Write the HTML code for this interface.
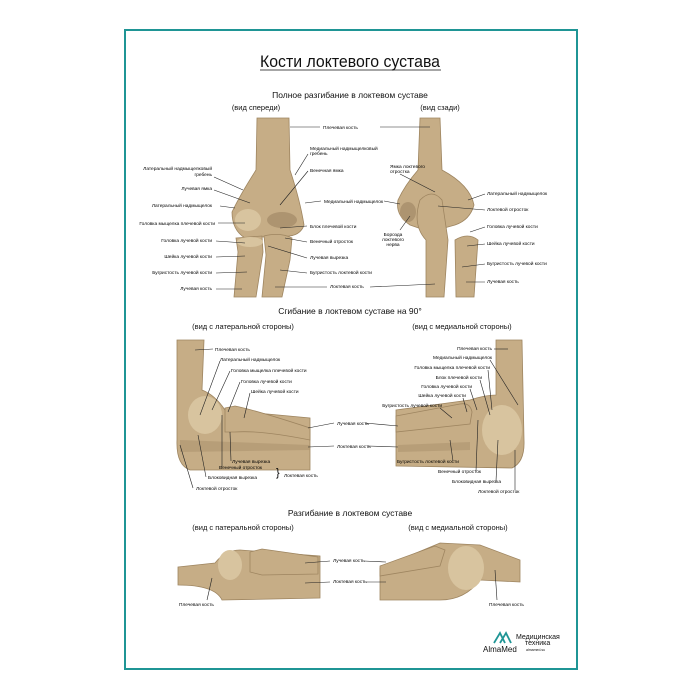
<!DOCTYPE html>
<html><head><meta charset="utf-8"><style>
html,body{margin:0;padding:0;background:#fff;width:700px;height:700px;overflow:hidden}
svg{display:block}
text{font-family:"Liberation Sans","Noto Sans CJK SC",sans-serif;fill:#111}
.l{font-size:4.8px}
.l text{fill:#000}
.ln{stroke:#222;stroke-width:0.6;fill:none}
.b{fill:#c6ad86;stroke:#9e8560;stroke-width:0.8}
.d{fill:#ad9470}
.h{fill:#d8c49f}
</style></head><body>
<svg width="700" height="700" viewBox="0 0 700 700">
<rect x="125" y="30" width="452" height="639" fill="#fff" stroke="#1f9595" stroke-width="2"/>
<text x="350" y="67" text-anchor="middle" style="font-size:17px" textLength="180" lengthAdjust="spacingAndGlyphs">Кости локтевого сустава</text>
<line x1="260" y1="70" x2="441" y2="70" stroke="#111" stroke-width="0.8"/>
<text x="350" y="98" text-anchor="middle" style="font-size:8.5px">Полное разгибание в локтевом суставе</text>
<text x="256" y="110" text-anchor="middle" style="font-size:7.5px">(вид спереди)</text>
<text x="440" y="110" text-anchor="middle" style="font-size:7.5px">(вид сзади)</text>

<!-- front view -->
<path class="b" d="M257,118 L289,118 L290,170 Q300,200 304,225 Q300,238 280,236 L245,238 Q232,230 232,212 Q240,195 256,170 Z"/>
<ellipse class="h" cx="248" cy="220" rx="13" ry="11"/>
<ellipse class="d" cx="282" cy="220" rx="15" ry="8"/>
<path class="b" d="M236,238 L262,236 L263,252 L256,297 L234,297 L238,252 Z"/>
<path class="b" d="M264,236 Q280,232 292,238 L290,260 L282,297 L262,297 L266,255 Z"/>
<ellipse class="h" cx="250" cy="242" rx="13" ry="5"/>
<!-- back view -->
<path class="b" d="M420,118 L440,118 L442,170 Q470,185 474,205 Q470,220 455,225 L430,232 L410,225 Q395,215 398,200 Q405,185 418,170 Z"/>
<path class="b" d="M420,200 Q432,188 442,200 L448,240 L444,297 L426,297 L426,240 Q412,225 420,200 Z"/>
<path class="b" d="M455,240 Q468,232 478,240 L474,297 L456,297 Z"/>
<ellipse class="d" cx="408" cy="212" rx="8" ry="10"/>

<g class="l">
<text x="323" y="129">Плечевая кость</text><line class="ln" x1="290" y1="127" x2="320" y2="127"/><line class="ln" x1="380" y1="127" x2="430" y2="127"/>
<text x="310" y="150">Медиальный надмыщелковый</text><text x="310" y="155">гребень</text><line class="ln" x1="295" y1="175" x2="308" y2="154"/>
<text x="310" y="172">Венечная ямка</text><line class="ln" x1="280" y1="205" x2="308" y2="171"/>
<text x="212" y="170" text-anchor="end">Латеральный надмыщелковый</text><text x="212" y="176" text-anchor="end">гребень</text><line class="ln" x1="214" y1="177" x2="243" y2="190"/>
<text x="212" y="190" text-anchor="end">Лучевая ямка</text><line class="ln" x1="214" y1="190" x2="250" y2="203"/>
<text x="212" y="207" text-anchor="end">Латеральный надмыщелок</text><line class="ln" x1="220" y1="206" x2="235" y2="208"/>
<text x="215" y="225" text-anchor="end">Головка мыщелка плечевой кости</text><line class="ln" x1="218" y1="223" x2="245" y2="223"/>
<text x="212" y="242" text-anchor="end">Головка лучевой кости</text><line class="ln" x1="216" y1="241" x2="245" y2="243"/>
<text x="212" y="258" text-anchor="end">Шейка лучевой кости</text><line class="ln" x1="216" y1="257" x2="245" y2="256"/>
<text x="212" y="274" text-anchor="end">Бугристость лучевой кости</text><line class="ln" x1="216" y1="273" x2="247" y2="272"/>
<text x="212" y="290" text-anchor="end">Лучевая кость</text><line class="ln" x1="216" y1="289" x2="242" y2="289"/>
<text x="324" y="203">Медиальный надмыщелок</text><line class="ln" x1="305" y1="203" x2="321" y2="201"/><line class="ln" x1="384" y1="201" x2="400" y2="204"/>
<text x="310" y="228">Блок плечевой кости</text><line class="ln" x1="280" y1="228" x2="307" y2="226"/>
<text x="310" y="243">Венечный отросток</text><line class="ln" x1="285" y1="238" x2="307" y2="242"/>
<text x="310" y="259">Лучевая вырезка</text><line class="ln" x1="268" y1="246" x2="307" y2="258"/>
<text x="310" y="274">Бугристость локтевой кости</text><line class="ln" x1="280" y1="270" x2="307" y2="273"/>
<text x="330" y="288">Локтевая кость</text><line class="ln" x1="275" y1="287" x2="327" y2="287"/><line class="ln" x1="370" y1="287" x2="435" y2="284"/>
<text x="390" y="168">Ямка локтевого</text><text x="390" y="173">отростка</text><line class="ln" x1="400" y1="174" x2="435" y2="192"/>
<text x="487" y="195">Латеральный надмыщелок</text><line class="ln" x1="468" y1="200" x2="485" y2="194"/>
<text x="487" y="211">Локтевой отросток</text><line class="ln" x1="438" y1="206" x2="485" y2="210"/>
<text x="487" y="228">Головка лучевой кости</text><line class="ln" x1="470" y1="232" x2="485" y2="227"/>
<text x="487" y="245">Шейка лучевой кости</text><line class="ln" x1="467" y1="246" x2="485" y2="244"/>
<text x="487" y="265">Бугристость лучевой кости</text><line class="ln" x1="462" y1="267" x2="485" y2="264"/>
<text x="487" y="283">Лучевая кость</text><line class="ln" x1="466" y1="282" x2="485" y2="282"/>
<text x="393" y="236" text-anchor="middle">Борозда</text><text x="393" y="241" text-anchor="middle">локтевого</text><text x="393" y="246" text-anchor="middle">нерва</text><line class="ln" x1="400" y1="230" x2="410" y2="216"/>
</g>

<text x="350" y="314" text-anchor="middle" style="font-size:8.5px">Сгибание в локтевом суставе на 90°</text>
<text x="243" y="329" text-anchor="middle" style="font-size:7.5px">(вид с латеральной стороны)</text>
<text x="462" y="329" text-anchor="middle" style="font-size:7.5px">(вид с медиальной стороны)</text>

<!-- lateral flexion -->
<path class="b" d="M177,340 L204,340 L202,390 Q215,395 225,410 L310,418 L310,470 L190,470 Q176,465 177,440 Z"/>
<ellipse class="h" cx="205" cy="415" rx="17" ry="19"/>
<path class="b" d="M225,408 L235,406 Q255,410 310,428 L310,440 Q260,430 235,432 L225,432 Z"/>
<path class="d" d="M180,440 L310,445 L310,450 L180,452 Z" opacity="0.6"/>
<!-- medial flexion -->
<path class="b" d="M496,340 L522,340 L524,440 Q525,462 512,468 L396,466 L396,410 L470,400 Q485,395 496,395 Z"/>
<ellipse class="h" cx="502" cy="430" rx="20" ry="25"/>
<path class="b" d="M396,416 L460,404 Q470,402 472,412 L470,424 L396,432 Z"/>
<path class="d" d="M398,445 L470,442 L470,450 L398,452 Z" opacity="0.6"/>

<g class="l">
<text x="215" y="351">Плечевая кость</text><line class="ln" x1="195" y1="350" x2="213" y2="349"/>
<text x="220" y="361">Латеральный надмыщелок</text><line class="ln" x1="200" y1="415" x2="220" y2="361"/>
<text x="231" y="372">Головка мыщелка плечевой кости</text><line class="ln" x1="212" y1="410" x2="230" y2="371"/>
<text x="241" y="383">Головка лучевой кости</text><line class="ln" x1="228" y1="412" x2="240" y2="382"/>
<text x="251" y="393">Шейка лучевой кости</text><line class="ln" x1="244" y1="418" x2="250" y2="393"/>
<text x="337" y="425">Лучевая кость</text><line class="ln" x1="308" y1="428" x2="334" y2="423"/><line class="ln" x1="365" y1="423" x2="398" y2="426"/>
<text x="337" y="448">Локтевая кость</text><line class="ln" x1="308" y1="447" x2="334" y2="446"/><line class="ln" x1="368" y1="446" x2="398" y2="447"/>
<text x="232" y="463">Лучевая вырезка</text><line class="ln" x1="230" y1="432" x2="231" y2="461"/>
<text x="219" y="469">Венечный отросток</text><line class="ln" x1="222" y1="415" x2="222" y2="467"/>
<text x="208" y="479">Блоковидная вырезка</text><line class="ln" x1="198" y1="435" x2="206" y2="477"/>
<text x="196" y="490">Локтевой отросток</text><line class="ln" x1="180" y1="445" x2="193" y2="488"/>
<text x="276" y="476" style="font-size:11px">}</text><text x="284" y="477">Локтевая кость</text>
<text x="492" y="350" text-anchor="end">Плечевая кость</text><line class="ln" x1="494" y1="349" x2="508" y2="349"/>
<text x="492" y="359" text-anchor="end">Медиальный надмыщелок</text><line class="ln" x1="490" y1="360" x2="518" y2="405"/>
<text x="490" y="369" text-anchor="end">Головка мыщелка плечевой кости</text><line class="ln" x1="488" y1="370" x2="492" y2="410"/>
<text x="482" y="379" text-anchor="end">Блок плечевой кости</text><line class="ln" x1="480" y1="380" x2="490" y2="415"/>
<text x="472" y="388" text-anchor="end">Головка лучевой кости</text><line class="ln" x1="470" y1="389" x2="477" y2="410"/>
<text x="466" y="397" text-anchor="end">Шейка лучевой кости</text><line class="ln" x1="463" y1="398" x2="467" y2="412"/>
<text x="442" y="407" text-anchor="end">Бугристость лучевой кости</text><line class="ln" x1="440" y1="408" x2="452" y2="418"/>
<text x="397" y="463">Бугристость локтевой кости</text><line class="ln" x1="450" y1="440" x2="453" y2="461"/>
<text x="438" y="473">Венечный отросток</text><line class="ln" x1="478" y1="420" x2="476" y2="471"/>
<text x="452" y="483">Блоковидная вырезка</text><line class="ln" x1="498" y1="440" x2="496" y2="481"/>
<text x="478" y="493">Локтевой отросток</text><line class="ln" x1="515" y1="450" x2="515" y2="490"/>
</g>

<text x="350" y="516" text-anchor="middle" style="font-size:8.5px">Разгибание в локтевом суставе</text>
<text x="243" y="530" text-anchor="middle" style="font-size:7.5px">(вид с патеральной стороны)</text>
<text x="458" y="530" text-anchor="middle" style="font-size:7.5px">(вид с медиальной стороны)</text>

<!-- lateral extension -->
<path class="b" d="M178,567 L215,563 Q225,550 240,550 L320,556 L320,598 L222,600 Q215,585 178,585 Z"/>
<ellipse class="h" cx="230" cy="565" rx="12" ry="15"/>
<path class="b" d="M250,552 L262,549 L318,557 L318,574 L262,575 L250,572 Z"/>
<!-- medial extension -->
<path class="b" d="M380,568 L440,543 L480,545 L520,560 L520,582 L480,580 Q465,600 440,600 L380,600 Z"/>
<ellipse class="h" cx="466" cy="568" rx="18" ry="22"/>
<path class="b" d="M380,566 L435,546 L445,550 L440,566 L380,576 Z"/>

<g class="l">
<text x="333" y="562">Лучевая кость</text><line class="ln" x1="305" y1="563" x2="330" y2="561"/><line class="ln" x1="364" y1="561" x2="386" y2="562"/>
<text x="333" y="583">Локтевая кость</text><line class="ln" x1="305" y1="583" x2="330" y2="582"/><line class="ln" x1="366" y1="582" x2="386" y2="582"/>
<text x="179" y="606">Плечевая кость</text><line class="ln" x1="212" y1="578" x2="207" y2="600"/>
<text x="489" y="606">Плечевая кость</text><line class="ln" x1="495" y1="570" x2="497" y2="600"/>
</g>

<!-- logo -->
<path d="M494,643 L500,633 L505,643 M500,643 L506,633 L511,643" stroke="#1f9595" stroke-width="1.8" fill="none"/>
<text x="483" y="652" style="font-size:8px">AlmaMed</text>
<text x="516" y="639" style="font-size:7px">Медицинская</text>
<text x="525" y="645" style="font-size:7px">техника</text>
<text x="526" y="651" style="font-size:3.5px">almamed.su</text>
</svg>
</body></html>
